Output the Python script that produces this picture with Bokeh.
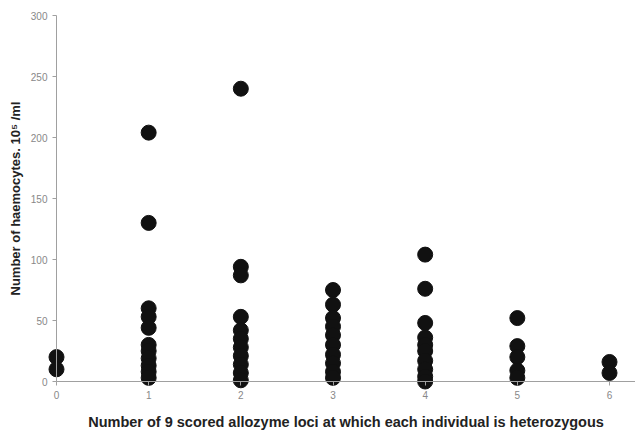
from bokeh.plotting import figure
from bokeh.models import Range1d, FixedTicker
from bokeh.embed import file_html
from bokeh.resources import INLINE

# Number of heterozygous loci (x categories)
loci = [0, 1, 2, 3, 4, 5, 6]
y_ticks = [0, 50, 100, 150, 200, 250, 300]

# Haemocyte counts (10^5/ml) for each number of heterozygous loci
h0 = [20, 10]
h1 = [204, 130, 60, 53, 44, 30, 25, 19, 13, 8, 3]
h2 = [240, 94, 87, 53, 42, 35, 28, 21, 14, 7, 1]
h3 = [75, 63, 52, 45, 38, 30, 22, 15, 8, 3]
h4 = [104, 76, 48, 36, 30, 25, 17, 10, 4, 0]
h5 = [52, 29, 20, 9, 3]
h6 = [16, 7]

groups = [h0, h1, h2, h3, h4, h5, h6]
xs, ys = [], []
for k, g in zip(loci, groups):
    xs += [k] * len(g)
    ys += g

p = figure(width=635, height=432, output_backend="svg", toolbar_location=None,
           x_range=Range1d(-0.6076, 6.282), y_range=Range1d(-41.8, 312.3),
           min_border_left=0, min_border_right=0, min_border_top=0,
           min_border_bottom=0)
p.scatter(xs, ys, size=15, color="#111111", line_color="#111111")

p.outline_line_color = None
p.grid.visible = False
p.background_fill_color = "white"

p.xaxis.fixed_location = 0
p.yaxis.fixed_location = 0
p.xaxis.bounds = (0, 6.282)
p.yaxis.bounds = (0, 300)
p.xaxis.ticker = FixedTicker(ticks=loci)
p.yaxis.ticker = FixedTicker(ticks=y_ticks)

for ax in (p.xaxis[0], p.yaxis[0]):
    ax.axis_line_color = "#a0a0a0"
    ax.major_tick_line_color = "#a0a0a0"
    ax.major_tick_out = 4
    ax.major_tick_in = 0
    ax.minor_tick_line_color = None
    ax.major_label_text_font = "Liberation Sans"
    ax.major_label_text_font_size = "10px"
    ax.major_label_text_color = "#888888"
    ax.major_label_standoff = 5
    ax.axis_label_text_font = "Liberation Sans"
    ax.axis_label_text_font_style = "bold"
    ax.axis_label_text_color = "#222222"

p.xaxis.axis_label = "Number of 9 scored allozyme loci at which each individual is heterozygous"
p.yaxis.axis_label = "Number of haemocytes. 10\u2075 /ml"
p.xaxis.axis_label_text_font_size = "14.5px"
p.yaxis.axis_label_text_font_size = "13px"
p.xaxis.axis_label_standoff = 12
p.yaxis.axis_label_standoff = 5

open("out.html", "w").write(file_html(p, INLINE))
